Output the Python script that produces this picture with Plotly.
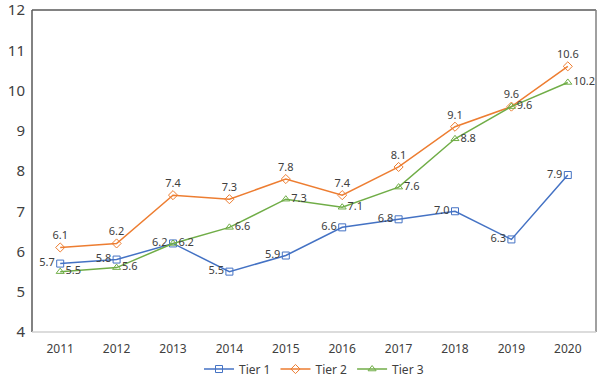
import plotly.graph_objects as go

years = ["2011", "2012", "2013", "2014", "2015", "2016", "2017", "2018", "2019", "2020"]
tier1 = [5.7, 5.8, 6.2, 5.5, 5.9, 6.6, 6.8, 7.0, 6.3, 7.9]
tier2 = [6.1, 6.2, 7.4, 7.3, 7.8, 7.4, 8.1, 9.1, 9.6, 10.6]
tier3 = [5.5, 5.6, 6.2, 6.6, 7.3, 7.1, 7.6, 8.8, 9.6, 10.2]

series = [
    ("Tier 1", tier1, "#4472C4", "square-open", "middle left"),
    ("Tier 2", tier2, "#ED7D31", "diamond-open", "top center"),
    ("Tier 3", tier3, "#70AD47", "triangle-up-open", "middle right"),
]

fig = go.Figure()
for name, vals, color, sym, pos in series:
    fig.add_trace(go.Scatter(
        x=years, y=vals, name=name, mode="lines+markers+text",
        line=dict(color=color, width=1.5),
        marker=dict(symbol=sym, size=7, color=color, line=dict(width=1, color=color)),
        text=[f"{v:.1f}" for v in vals], textposition=pos,
        textfont=dict(size=11, color="#404040"),
        cliponaxis=False,
    ))

fig.update_layout(
    width=600, height=379,
    margin=dict(l=32, r=4, t=10, b=47, autoexpand=False),
    paper_bgcolor="white", plot_bgcolor="white",
    font=dict(family="Noto Sans, Open Sans, sans-serif", color="#404040"),
    showlegend=True,
    legend=dict(orientation="h", x=0.5, xanchor="center", y=-0.115, yanchor="middle",
                font=dict(size=12, color="#404040"), itemwidth=30),
    xaxis=dict(type="category", range=[-0.5, 9.5], showgrid=False, ticks="",
               tickfont=dict(size=12, color="#404040"), showline=False, zeroline=False,
               automargin=False, ticklabelstandoff=8, ticklabeloverflow="allow"),
    yaxis=dict(range=[4, 12], dtick=1, showgrid=False, ticks="",
               tickfont=dict(size=15, color="#404040"), showline=False, zeroline=False,
               automargin=False, ticklabelstandoff=6, ticklabeloverflow="allow"),
    shapes=[
        dict(type="line", xref="paper", yref="paper", x0=0, x1=0, y0=0, y1=1, line=dict(color="#595959", width=1.5)),
        dict(type="line", xref="paper", yref="paper", x0=0, x1=1, y0=1, y1=1, line=dict(color="#595959", width=1.5)),
        dict(type="line", xref="paper", yref="paper", x0=1, x1=1, y0=0, y1=1, line=dict(color="#808080", width=1.5)),
        dict(type="line", xref="paper", yref="paper", x0=0, x1=1, y0=0, y1=0, line=dict(color="#D0D0D0", width=1.5)),
    ],
)

fig.write_html("out.html", config={"displayModeBar": False},
               post_script="document.body.style.margin='0';")
